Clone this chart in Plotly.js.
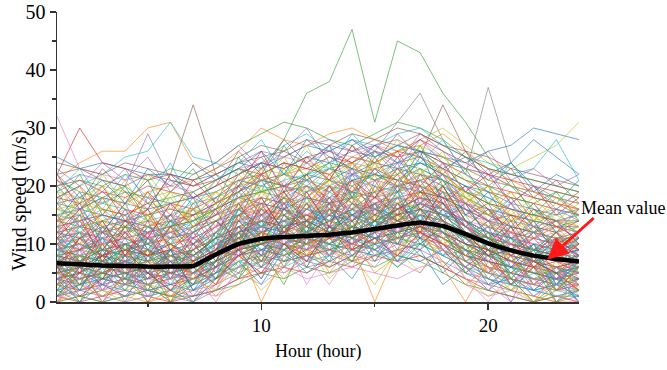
<!DOCTYPE html>
<html>
<head>
<meta charset="utf-8">
<script src="https://cdn.plot.ly/plotly-3.0.1.min.js"></script>
<style>html,body{margin:0;padding:0;background:#fff;}#chart{width:667px;height:370px;}</style>
</head>
<body>
<div id="chart"></div>
<script>
var hours = [1,2,3,4,5,6,7,8,9,10,11,12,13,14,15,16,17,18,19,20,21,22,23,24];

var meanValue = [6.7,6.5,6.3,6.2,6.1,6.1,6.2,8.2,10.0,10.9,11.2,11.4,11.6,12.0,12.6,13.2,13.7,13.1,11.7,10.1,8.9,8.0,7.4,7.0];

// first ten rows are the conspicuous high/outlier curves (colour order follows the palette)
var windSeries = [
[25,23,24,23,22,22,21,22,24,23,25,27,26,28,25,27,26,24,23,22,24,28,25,22],
[21,24,26,26,30,31,24,22,20,21,22,23,22,24,21,23,22,21,19,17,16,15,14,13],
[8,9,10,11,12,13,14,16,19,23,28,36,38,47,31,45,43,36,31,25,20,16,14,12],
[22,30,24,23,21,22,20,21,23,22,24,23,25,24,26,25,26,24,22,20,19,18,17,16],
[20,22,21,20,29,21,20,22,24,26,25,27,28,26,27,28,26,25,23,21,20,19,18,17],
[13,14,15,14,16,22,34,22,18,19,20,21,19,22,23,24,25,34,26,22,20,18,17,15],
[32,23,22,21,22,20,19,21,23,24,25,24,26,25,27,26,28,25,23,22,20,19,18,17],
[12,13,12,14,13,15,14,17,19,21,22,20,23,24,26,31,36,28,22,37,24,20,18,16],
[16,17,16,15,17,16,15,18,20,22,24,22,25,23,24,26,28,30,27,24,23,25,27,31],
[18,20,22,25,26,31,25,24,22,24,27,29,26,28,27,29,30,27,25,24,22,23,28,21],
[17,18,17,19,18,17,18,20,22,24,23,25,24,26,25,27,26,25,24,26,27,30,29,28],
[14,16,18,17,19,20,21,23,26,30,28,27,29,30,28,26,27,29,26,23,21,19,17,16],
[19,21,20,22,21,23,22,24,27,29,31,30,28,27,29,31,30,28,25,23,22,21,20,19],
[3,2,4,3,2,1,3,5,8,9,10,9,11,12,10,13,12,9,7,5,4,3,2,3],
[6,5,7,6,5,6,5,8,11,13,12,14,13,15,16,14,17,15,12,10,8,7,6,5],
[9,10,8,7,9,8,7,9,12,14,15,13,16,14,17,18,19,16,14,12,11,9,10,8],
[12,11,13,12,10,11,12,14,16,15,17,18,16,19,18,20,21,19,17,15,13,12,11,12],
[2,1,0,1,2,1,0,2,4,6,5,7,6,8,7,9,8,6,4,3,2,1,0,1],
[7,8,6,5,6,7,6,9,10,12,11,10,12,13,11,12,14,13,11,9,8,7,8,6],
[15,14,16,13,12,14,13,16,18,20,19,21,20,22,21,23,22,20,18,16,15,14,13,12],
[4,5,3,4,5,4,6,7,9,10,11,12,10,9,11,12,13,11,8,7,6,5,4,4],
[10,9,11,10,8,9,10,12,15,16,14,15,17,16,18,17,19,18,15,13,12,11,10,9],
[5,6,5,7,6,5,4,6,8,11,12,11,13,12,14,15,16,14,11,9,7,6,5,6],
[18,17,19,16,15,17,16,18,21,22,24,23,22,25,24,26,25,23,21,19,18,17,16,15],
[1,2,1,0,1,2,1,3,5,7,8,6,7,9,8,10,9,7,5,4,3,2,1,2],
[8,7,9,8,7,8,9,11,13,12,14,15,13,14,16,15,17,16,13,11,9,8,7,8],
[11,12,10,11,12,10,11,13,14,16,15,17,18,16,17,19,18,17,15,14,12,11,12,10],
[6,7,6,5,4,5,6,8,10,9,11,10,12,11,13,12,14,12,10,8,7,6,6,5],
[3,4,5,4,3,4,3,6,8,7,9,10,11,10,12,11,10,9,7,6,5,4,3,4],
[13,12,14,15,13,12,14,15,17,19,18,20,19,21,20,19,22,21,18,16,14,13,12,13],
[7,6,8,7,8,6,7,10,12,13,12,11,13,12,14,13,15,14,12,10,9,8,7,7],
[0,1,2,1,0,1,2,3,6,5,7,8,9,7,8,9,10,8,6,4,2,1,0,0],
[9,8,7,9,10,8,9,11,13,14,13,15,14,16,15,17,16,15,13,11,10,9,8,9],
[20,21,19,18,20,19,18,20,22,24,23,25,26,24,27,25,28,26,24,22,21,20,19,18],
[5,4,6,5,4,6,5,7,9,10,9,11,10,12,11,13,12,11,9,7,6,5,4,5],
[14,15,13,14,12,13,15,16,18,17,19,20,18,21,22,20,21,22,19,17,16,15,14,14],
[2,3,2,3,4,3,2,4,6,8,7,9,8,10,9,8,11,9,7,5,4,3,2,3],
[8,9,8,10,9,7,8,10,11,13,14,12,14,15,13,16,15,14,12,11,10,9,8,8],
[6,5,4,6,7,6,5,7,9,11,10,12,11,13,12,14,13,12,10,8,6,5,6,7],
[16,15,17,16,14,15,17,18,20,19,21,22,23,21,22,24,23,21,19,18,16,15,16,15],
[4,3,4,5,3,4,5,6,8,9,8,10,9,11,10,11,12,10,8,6,5,4,3,4],
[11,10,12,11,10,11,10,13,15,14,16,15,17,18,16,17,19,18,16,14,12,11,10,11],
[7,8,7,6,7,8,7,9,11,12,13,12,14,13,15,14,16,15,12,10,9,8,7,8],
[1,0,1,2,1,0,1,2,4,5,6,5,7,6,8,7,8,6,4,2,1,0,1,0],
[10,11,9,10,11,12,10,12,14,15,16,14,15,17,16,18,17,16,14,12,11,10,9,10],
[22,23,21,20,22,21,20,22,24,25,26,24,27,26,28,27,29,27,25,23,22,21,20,19],
[5,6,7,6,5,4,5,8,10,11,10,9,11,12,11,13,14,12,9,8,7,6,5,5],
[12,13,12,13,11,12,13,14,16,17,16,18,17,19,18,19,20,18,16,15,13,12,13,12],
[3,2,3,2,3,2,4,5,7,8,9,8,10,9,11,10,11,9,7,5,4,3,2,2],
[9,10,9,8,9,10,8,10,12,13,14,13,15,14,16,15,17,15,13,12,10,9,9,10],
[17,16,18,17,16,17,18,19,21,20,22,21,23,22,24,23,24,22,20,19,17,16,15,16],
[6,7,5,6,7,6,7,9,11,10,12,13,12,14,13,15,14,13,11,9,8,7,6,6],
[0,1,0,1,2,1,1,2,3,5,4,6,5,7,6,8,7,5,3,2,1,0,1,1],
[8,7,8,9,8,9,8,11,12,14,13,14,16,15,14,16,18,16,14,12,10,9,8,7],
[13,14,15,14,13,14,12,15,17,18,17,19,20,19,21,20,22,20,17,16,15,14,13,13],
[4,5,4,3,4,5,4,7,9,10,11,10,12,11,13,12,13,11,9,7,5,4,4,3],
[10,9,10,11,9,10,11,13,14,16,15,16,14,17,16,18,17,16,14,13,11,10,11,10],
[7,6,7,8,6,7,6,8,10,11,10,12,11,12,14,13,14,13,11,10,8,7,6,7],
[19,18,20,19,18,19,17,19,21,23,22,24,23,25,24,26,27,25,23,21,20,19,18,17],
[2,3,4,3,2,3,2,4,7,8,7,9,10,9,10,11,10,8,6,4,3,2,3,2],
[11,12,11,12,13,11,12,14,15,17,16,18,17,18,19,20,19,18,16,14,13,12,11,11],
[5,4,5,6,5,6,7,9,10,12,11,13,12,13,15,14,15,14,11,9,7,6,5,4],
[14,13,14,13,14,13,14,16,18,19,20,19,21,20,22,21,23,21,19,17,15,14,13,14],
[6,7,6,7,6,5,6,8,9,10,11,12,11,13,12,14,13,12,10,9,7,6,7,6],
[9,8,9,10,11,9,8,11,13,15,14,16,15,14,17,16,18,17,14,12,10,9,8,9],
[24,23,22,24,23,22,21,23,25,27,26,28,27,29,28,30,29,27,26,25,23,22,21,20],
[3,4,3,4,3,5,4,6,8,9,10,9,11,10,12,11,12,10,8,6,5,4,3,3],
[12,11,12,13,12,11,13,15,16,18,17,16,18,19,17,19,21,19,17,15,13,12,11,12],
[7,8,9,8,7,8,7,10,12,11,13,12,14,15,14,16,15,14,12,11,9,8,8,7],
[1,2,3,2,1,2,3,4,6,7,6,8,7,9,8,9,10,8,6,5,3,2,1,2],
[15,16,15,14,15,16,15,17,19,21,20,22,21,23,22,21,24,22,20,18,16,15,14,15],
[8,9,10,9,10,8,9,11,13,14,13,15,16,15,17,16,17,15,13,11,10,9,10,8],
[5,6,4,5,6,5,6,7,9,10,9,11,10,12,11,12,13,11,9,8,6,5,5,6],
[6,4,5,7,5,3,4,6,9,12,10,11,9,10,12,13,11,10,8,7,6,8,7,5],
[10,12,9,8,10,12,11,9,14,13,11,12,15,13,11,14,16,13,12,10,9,11,10,9],
[3,5,7,5,6,8,6,9,11,8,10,13,11,12,14,11,13,14,10,9,7,5,4,6],
[13,11,10,12,14,11,9,12,15,17,14,13,16,18,15,17,14,16,13,11,12,10,9,11],
[8,6,5,4,6,5,7,10,9,12,14,11,10,13,12,15,13,11,12,8,6,7,5,4],
[16,14,12,13,11,10,12,14,17,15,18,16,19,17,20,18,16,19,15,13,14,12,11,10],
[2,4,1,3,5,2,4,5,7,6,9,7,8,11,9,7,10,8,9,6,3,5,2,1],
[11,9,12,10,8,10,7,9,12,16,13,14,12,15,17,14,12,15,14,10,9,7,8,9],
[5,3,6,8,7,4,6,8,12,10,8,9,13,11,9,12,14,11,8,10,7,4,6,3],
[9,11,13,11,9,7,9,12,10,13,15,12,14,12,15,13,15,13,11,13,11,8,9,11],
[18,20,16,15,17,14,15,17,19,22,20,18,21,19,23,21,20,18,17,14,15,13,12,14],
[4,2,3,6,4,7,5,7,10,8,11,9,12,10,9,11,13,10,7,5,8,6,4,5],
[7,9,11,9,8,10,8,6,11,14,12,15,13,11,16,14,12,16,13,9,7,9,11,9],
[0,2,3,1,3,0,2,1,5,3,6,4,5,6,5,4,6,7,3,1,2,0,2,3],
[12,10,8,9,7,9,10,13,15,13,16,14,17,15,13,16,18,17,12,11,8,10,9,7],
[15,17,14,16,13,15,16,14,18,16,15,17,15,18,19,17,19,20,18,16,13,14,15,13],
[6,8,7,9,10,7,8,11,14,12,13,16,14,16,13,15,17,15,14,12,11,9,7,8],
[1,3,5,4,2,3,5,4,8,10,7,8,6,8,10,8,7,9,5,3,4,2,3,1],
[10,7,6,8,9,6,5,8,10,11,9,10,11,9,10,11,12,10,9,6,5,6,8,10],
[21,19,18,20,17,18,19,21,23,21,20,22,24,23,21,22,24,23,21,20,18,17,19,18],
[7,5,8,10,8,9,6,9,8,10,12,14,12,10,13,15,16,12,10,9,10,8,6,7],
[9,7,6,7,5,8,10,8,13,11,12,10,14,16,14,12,15,17,16,14,11,12,10,8],
[4,6,8,6,9,6,8,11,9,7,10,8,9,8,11,10,9,12,10,8,9,7,5,7],
[14,12,11,9,12,13,11,13,16,14,17,15,16,20,18,16,18,16,14,12,10,11,13,12],
[3,1,2,4,3,5,3,5,6,9,8,10,8,7,9,12,11,12,8,7,4,3,4,2],
[11,13,14,12,13,14,16,15,17,19,18,17,20,18,19,22,20,19,18,15,14,15,12,13],
[5,7,6,8,7,9,6,7,12,9,10,12,10,13,11,10,12,13,11,8,6,4,5,6],
[4,0,3,1,5,2,0,4,7,3,9,5,8,4,10,6,9,3,6,2,5,1,4,0],
[0,3,1,4,0,2,5,1,3,8,4,9,6,11,5,8,12,7,3,6,2,4,0,3],
[8,12,6,10,5,9,13,7,14,10,16,12,18,13,17,11,19,14,9,12,7,10,5,8],
[15,9,14,8,13,10,7,12,17,11,19,14,20,15,18,22,16,20,14,11,15,9,12,7],
[2,6,0,5,3,7,1,6,9,4,12,7,10,14,8,13,9,15,7,4,8,2,6,3],
[11,6,13,7,12,5,9,14,10,18,12,17,11,19,14,20,13,17,12,8,13,6,10,12],
[6,10,3,8,12,4,9,5,13,8,15,10,14,9,16,12,18,11,14,7,10,5,9,4],
[19,13,18,12,16,11,17,13,21,16,24,18,22,17,25,19,23,18,20,15,17,12,16,11],
[1,4,2,0,3,1,4,2,7,2,6,10,4,8,3,9,5,11,4,1,3,0,2,5],
[9,4,11,6,2,8,5,11,6,14,9,13,8,16,11,7,15,10,6,11,4,9,3,7],
[13,17,10,16,9,14,11,8,16,21,15,19,13,22,16,20,26,17,13,16,10,14,8,11],
[3,8,5,9,4,10,6,3,11,7,13,6,12,9,15,8,14,10,12,5,8,3,7,2],
[7,2,8,3,9,4,10,6,4,12,6,14,10,7,13,16,10,13,8,12,4,8,2,6],
[22,16,20,14,19,15,21,17,20,26,19,25,21,27,22,26,20,24,19,22,17,20,15,18],
[5,9,2,7,1,6,3,10,8,15,10,7,13,10,14,9,17,12,9,5,10,6,3,8],
[10,14,8,13,7,11,15,9,17,12,20,14,18,12,21,15,19,22,15,17,11,13,9,12],
[0,5,2,6,1,4,0,3,8,5,11,3,9,6,12,7,5,10,6,3,0,4,1,0],
[12,7,10,4,11,8,6,12,9,16,11,18,15,10,17,13,20,14,10,7,12,8,11,5],
[17,12,15,19,14,18,13,16,22,18,23,17,21,24,19,25,21,23,17,20,14,16,12,15],
[4,7,11,6,9,3,8,4,10,14,8,12,16,11,9,13,11,8,13,9,6,10,7,9],
[8,3,6,11,5,9,2,7,13,9,12,17,12,15,10,17,14,19,11,8,9,3,6,4],
[14,10,16,11,15,9,13,17,12,19,15,13,20,16,22,14,21,16,18,13,16,11,13,9],
[2,0,5,2,6,0,3,7,5,11,7,12,8,13,7,12,8,6,10,4,2,6,0,2],
[6,11,7,12,8,13,7,9,15,11,17,11,15,18,12,17,13,18,11,14,8,11,7,10],
[11,16,12,17,10,15,12,18,14,22,17,21,16,23,18,24,17,21,16,12,17,13,14,10],
[1,5,8,3,7,2,6,3,9,6,13,8,11,7,13,10,16,9,5,8,3,6,2,4],
[9,13,10,5,12,7,11,13,8,15,13,10,17,14,19,12,15,20,13,10,12,7,11,6],
[3,7,4,8,2,9,5,8,12,6,10,14,9,15,12,17,11,14,7,9,5,8,4,7],
[20,15,22,17,21,16,19,15,23,19,21,27,20,24,23,28,22,25,21,17,19,14,17,21],
[7,13,9,14,10,6,12,10,16,13,18,12,19,15,13,18,21,15,17,11,13,9,12,8],
[14,19,12,17,21,13,18,11,20,24,16,22,27,18,23,19,25,21,15,19,13,17,12,16],
[0,6,0,5,9,0,7,3,10,0,8,12,5,10,0,9,13,6,0,7,4,0,5,2],
[17,22,15,20,14,19,23,17,25,19,27,21,24,18,26,22,27,20,23,17,21,15,19,14],
[10,5,12,8,14,6,11,16,9,17,11,19,13,21,15,18,12,20,14,9,13,7,11,8],
[3,9,6,0,8,4,10,5,12,7,14,9,16,11,7,13,15,9,12,6,0,8,4,9],
[21,17,23,19,16,22,18,20,26,22,28,24,21,27,24,29,25,22,26,20,23,18,21,17],
[8,14,10,16,11,17,9,13,18,12,21,15,19,23,16,21,17,24,16,13,17,11,14,10],
[5,0,7,2,8,5,0,6,11,6,9,14,8,12,17,10,14,8,11,7,3,8,0,4],
[12,18,13,9,15,10,16,12,14,20,13,22,16,19,14,21,23,16,19,14,10,15,11,13],
[19,23,17,22,18,24,16,21,24,28,22,26,23,29,25,27,24,28,22,19,24,20,17,21],
[6,2,9,4,11,7,3,9,13,8,15,11,17,9,14,19,11,16,10,13,6,10,3,7],
[15,11,18,13,19,12,16,19,14,22,17,20,15,24,19,23,18,21,17,20,14,17,13,16],
[2,8,4,10,3,0,5,8,4,9,3,11,7,14,9,6,10,13,5,9,4,0,3,6],
[11,15,7,13,16,9,12,7,15,18,12,16,20,14,18,15,22,17,13,10,14,8,12,9],
[23,20,24,21,25,19,22,24,27,23,26,30,24,28,26,24,29,26,23,26,21,23,20,22],
[7,11,14,8,12,15,10,14,11,16,19,13,17,12,20,16,18,14,17,11,8,12,14,10],
[4,8,2,7,0,5,8,2,9,13,6,11,8,10,13,7,12,9,6,2,7,3,6,1],
[13,8,11,15,9,13,16,10,19,14,17,12,20,17,15,21,16,19,13,16,11,14,9,12],
[18,14,20,16,22,17,14,19,17,21,25,19,23,20,24,18,27,22,19,15,18,13,16,19],
[9,15,11,6,13,10,14,8,16,11,14,18,12,17,13,19,14,17,11,14,9,12,7,11],
[1,6,3,8,4,9,2,5,9,4,10,6,13,8,12,7,11,5,9,3,6,2,5,0],
[16,20,13,18,15,12,17,21,16,23,18,16,22,19,25,20,18,23,18,15,19,14,18,15],
[7,3,10,5,0,6,9,4,12,7,13,10,16,11,14,10,16,12,7,10,5,9,2,6],
[12,16,9,14,11,17,13,15,20,15,18,22,17,21,18,23,19,17,20,16,12,16,13,11],
[20,16,19,23,17,21,18,16,22,25,20,24,27,22,26,23,28,24,19,23,17,20,16,19],
[5,11,8,12,7,13,10,6,14,10,16,13,11,17,14,16,20,14,12,8,11,6,9,7],
[0,4,0,3,6,1,5,0,6,9,5,8,3,9,6,11,7,9,4,0,5,1,3,0],
[10,6,13,9,11,6,12,14,11,15,12,17,14,20,16,13,17,15,16,12,9,12,8,10],
[14,18,16,21,15,19,13,17,19,16,23,18,21,17,24,20,22,26,18,20,15,18,14,17],
[8,12,5,10,7,11,6,12,15,10,13,16,14,19,12,18,14,12,15,9,11,8,10,5],
[22,18,21,17,23,20,24,21,23,26,22,28,25,23,27,24,26,23,25,21,24,19,22,20],
[3,7,10,6,2,8,4,9,7,12,10,8,14,12,10,15,12,13,8,5,9,6,2,6],
[11,7,9,13,10,14,8,11,16,13,18,14,12,16,19,14,17,20,14,11,9,13,10,12],
[6,1,4,9,5,2,7,4,8,5,10,7,13,9,11,8,12,10,6,9,3,7,5,2],
[17,13,15,11,18,14,19,15,18,22,16,20,17,22,20,25,19,22,17,14,18,13,16,14]
];

var palette = ['#1f77b4','#ff7f0e','#2ca02c','#d62728','#9467bd','#8c564b','#e377c2','#7f7f7f','#bcbd22','#17becf'];

var traces = windSeries.map(function (row, i) {
  return {
    x: hours, y: row, type: 'scatter', mode: 'lines',
    line: {color: palette[i % palette.length], width: 0.9},
    opacity: 0.7, hoverinfo: 'skip', showlegend: false
  };
});
traces.push({
  x: hours, y: meanValue, type: 'scatter', mode: 'lines',
  line: {color: '#000', width: 4.5, shape: 'spline', smoothing: 0.25},
  showlegend: false, name: 'Mean value'
});

var serif = 'Liberation Serif';
var layout = {
  width: 667, height: 370,
  margin: {l: 57, r: 88, t: 12, b: 68},
  paper_bgcolor: '#fff', plot_bgcolor: '#fff',
  font: {family: serif, color: '#000', size: 18},
  showlegend: false,
  xaxis: {
    range: [1, 24], showgrid: false, zeroline: false,
    showline: true, linecolor: '#333', linewidth: 1.5,
    tickmode: 'array', tickvals: [10, 20],
    ticks: 'outside', ticklen: 6, tickwidth: 1.5, tickcolor: '#333',
    tickfont: {family: serif, size: 19, color: '#000'},
    minor: {tickmode: 'array', tickvals: [5, 15], ticks: 'outside', ticklen: 3.5, tickwidth: 1.5, tickcolor: '#333', showgrid: false}
  },
  yaxis: {
    range: [0, 50], showgrid: false, zeroline: false,
    showline: true, linecolor: '#333', linewidth: 1.5,
    dtick: 10, tick0: 0,
    ticks: 'outside', ticklen: 6, tickwidth: 1.5, tickcolor: '#333',
    tickfont: {family: serif, size: 20, color: '#000'},
    minor: {dtick: 5, ticks: 'outside', ticklen: 3.5, tickwidth: 1.5, tickcolor: '#333', showgrid: false}
  },
  annotations: [
    {xref: 'paper', yref: 'paper', x: 0.5, y: -0.172, text: 'Hour (hour)', showarrow: false,
     font: {family: serif, size: 18, color: '#000'}, xanchor: 'center', yanchor: 'middle'},
    {xref: 'paper', yref: 'paper', x: -0.071, y: 0.352, text: 'Wind speed (m/s)', showarrow: false,
     textangle: -90, font: {family: serif, size: 20, color: '#000'}, xanchor: 'center', yanchor: 'middle'},
    {xref: 'paper', yref: 'paper', x: 1.084, y: 0.324, text: 'Mean value', showarrow: false,
     font: {family: serif, size: 18, color: '#000'}, xanchor: 'center', yanchor: 'middle'},
    {xref: 'x', yref: 'y', x: 22.6, y: 7.3, ax: 48, ay: -43, text: '', showarrow: true,
     arrowhead: 2, arrowsize: 1.4, arrowwidth: 3, arrowcolor: '#ff1a1a'}
  ]
};

Plotly.newPlot('chart', traces, layout, {displayModeBar: false, staticPlot: true});
</script>
</body>
</html>
